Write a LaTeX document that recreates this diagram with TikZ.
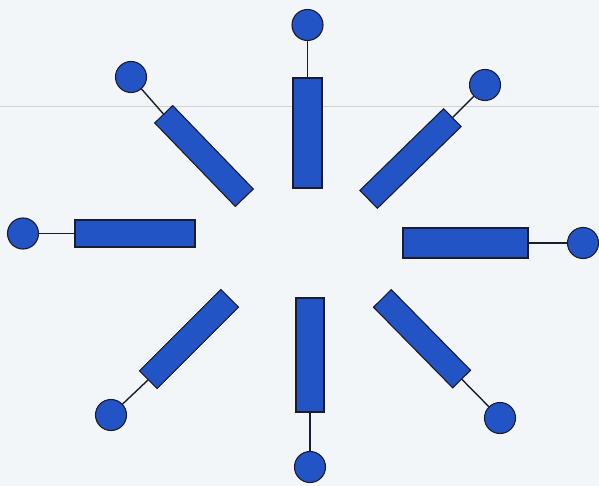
\documentclass[tikz,border=0pt]{standalone}
\usetikzlibrary{calc}
\definecolor{lipid}{RGB}{34,84,198}
\definecolor{edgec}{RGB}{28,28,45}
\definecolor{paper}{RGB}{243,246,248}
\begin{document}
\begin{tikzpicture}[x=1pt,y=-1pt,
  tail/.style={draw=edgec, line width=1.1pt, fill=lipid, rectangle, inner sep=0pt, minimum height=25pt},
  head/.style={draw=edgec, line width=1.1pt, fill=lipid, circle, inner sep=0pt, minimum size=31pt},
  stalk/.style={draw=edgec, line width=1.4pt}]
\fill[paper] (0,0) rectangle (599,486);
\useasboundingbox (0,0) rectangle (599,486);
\draw[gray!35, line width=0.6pt] (0,106) -- (599,106);
% top
\node[tail, minimum width=110pt, minimum height=29pt, rotate=90] (t1) at (307.5,133) {};
\node[head] (h1) at (307.5,25) {};
\draw[stalk] (t1.east) -- (h1);
% top-right
\node[tail, minimum width=117pt, rotate=44.3] (t2) at (410.5,158.5) {};
\node[head] (h2) at (485,85) {};
\draw[stalk] (t2.east) -- (h2);
% right
\node[tail, minimum width=125pt, minimum height=30pt, rotate=0] (t3) at (465.5,243) {};
\node[head] (h3) at (583,243) {};
\draw[stalk] (t3.east) -- (h3);
% bottom-right
\node[tail, minimum width=113pt, rotate=-45.5] (t4) at (422,338.75) {};
\node[head] (h4) at (500,418) {};
\draw[stalk] (t4.east) -- (h4);
% bottom
\node[tail, minimum width=114pt, minimum height=28pt, rotate=-90] (t5) at (310,355) {};
\node[head] (h5) at (310,467) {};
\draw[stalk] (t5.east) -- (h5);
% bottom-left
\node[tail, minimum width=115pt, rotate=-135] (t6) at (189,339) {};
\node[head] (h6) at (111,415) {};
\draw[stalk] (t6.east) -- (h6);
% left
\node[tail, minimum width=120pt, minimum height=27pt, rotate=180] (t7) at (135,233.5) {};
\node[head] (h7) at (23,233.5) {};
\draw[stalk] (t7.east) -- (h7);
% top-left
\node[tail, minimum width=116pt, rotate=134] (t8) at (204,156) {};
\node[head] (h8) at (131,77) {};
\draw[stalk] (t8.east) -- (h8);
\end{tikzpicture}
\end{document}
